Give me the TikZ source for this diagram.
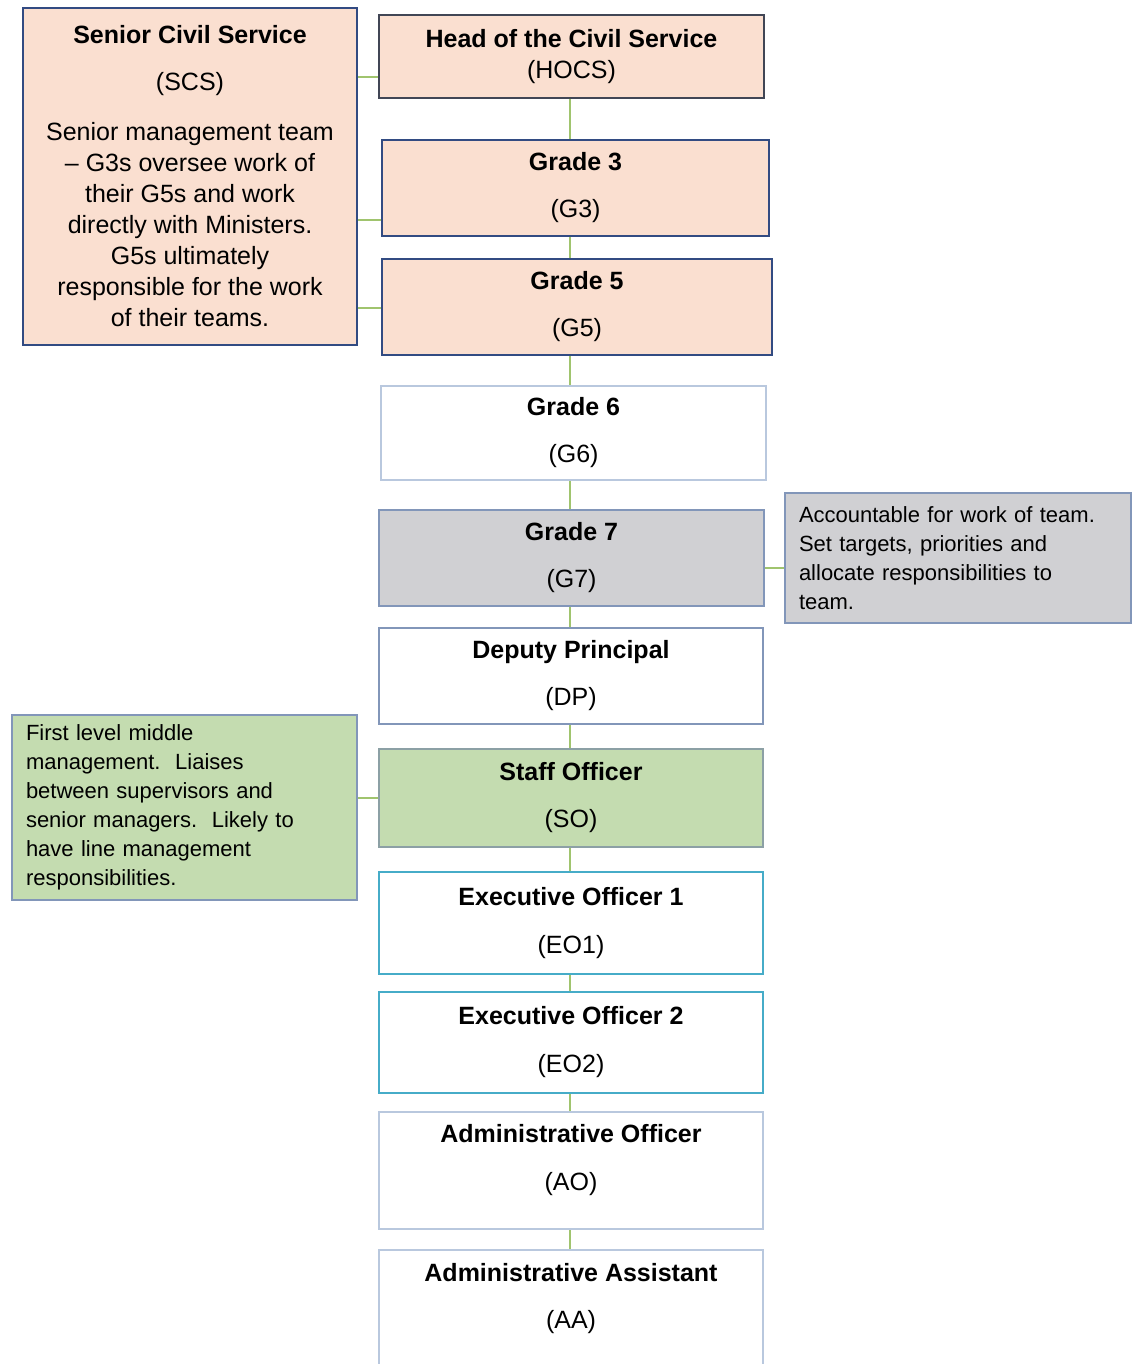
\documentclass[tikz,border=0pt]{standalone}
\usepackage{fontspec}
\setmainfont{Liberation Sans}

\definecolor{peach}{RGB}{250,223,208}
\definecolor{navyline}{RGB}{50,75,130}
\definecolor{darkline}{RGB}{65,70,85}
\definecolor{paleline}{RGB}{185,200,222}
\definecolor{greyfill}{RGB}{208,208,211}
\definecolor{greyline}{RGB}{130,150,185}
\definecolor{sagefill}{RGB}{196,220,176}
\definecolor{sageline}{RGB}{140,160,165}
\definecolor{tealline}{RGB}{70,172,200}
\definecolor{linkgreen}{RGB}{160,196,110}

\begin{document}
\begin{tikzpicture}[x=1pt,y=-1pt,
    grade/.style={draw, line width=2pt, inner sep=0pt, align=center,
      font=\fontsize{25}{30}\selectfont},
    note/.style={draw, line width=2pt, inner xsep=14pt, inner ysep=0pt,
      align=left, font=\fontsize{22}{29}\selectfont},
    link/.style={draw=linkgreen, line width=2pt}]
    \useasboundingbox (0,0) rectangle (1134,1364);

    % senior grades
    \node[grade, fill=peach, draw=navyline, line width=2.5pt, minimum width=334pt, minimum height=337pt,
      font=\fontsize{25}{31}\selectfont] (scs) at (190,176.5)
      {\textbf{Senior Civil Service}\\[16pt](SCS)\\[19pt]Senior management team\\
       -- G3s oversee work of\\their G5s and work\\directly with Ministers.\\
       G5s ultimately\\responsible for the work\\of their teams.};
    \node[grade, fill=peach, draw=darkline, minimum width=385pt, minimum height=83pt] (hocs) at (571.5,56.5)
      {\textbf{Head of the Civil Service}\\[1pt](HOCS)};
    \node[grade, fill=peach, draw=navyline, minimum width=387pt, minimum height=96pt] (g3) at (575.5,188)
      {\textbf{Grade 3}\\[17pt](G3)};
    \node[grade, fill=peach, draw=navyline, minimum width=390pt, minimum height=96pt] (g5) at (577,307)
      {\textbf{Grade 5}\\[17pt](G5)};

    % middle grades
    \node[grade, draw=paleline, minimum width=385pt, minimum height=94pt] (g6) at (573.5,433)
      {\textbf{Grade 6}\\[17pt](G6)};
    \node[grade, fill=greyfill, draw=greyline, minimum width=385pt, minimum height=96pt] (g7) at (571.5,558)
      {\textbf{Grade 7}\\[17pt](G7)};
    \node[note, fill=greyfill, draw=greyline, minimum width=346pt, minimum height=130pt,
      text width=318pt] (g7note) at (958,558)
      {Accountable for work of team.\\Set targets, priorities and\\allocate responsibilities to\\team.};
    \node[grade, draw=greyline, minimum width=384pt, minimum height=96pt] (dp) at (571,676)
      {\textbf{Deputy Principal}\\[17pt](DP)};
    \node[grade, fill=sagefill, draw=sageline, minimum width=384pt, minimum height=98pt] (so) at (571,798)
      {\textbf{Staff Officer}\\[17pt](SO)};
    \node[note, fill=sagefill, draw=greyline, minimum width=345pt, minimum height=185pt,
      text width=317pt] (sonote) at (184.5,807.5)
      {First level middle\\management.\ \ Liaises\\between supervisors and\\senior managers.\ \ Likely to\\have line management\\responsibilities.};

    % junior grades
    \node[grade, draw=tealline, minimum width=384pt, minimum height=102pt] (eo1) at (571,923)
      {\textbf{Executive Officer 1}\\[18pt](EO1)};
    \node[grade, draw=tealline, minimum width=384pt, minimum height=101pt] (eo2) at (571,1042.5)
      {\textbf{Executive Officer 2}\\[18pt](EO2)};
    \node[grade, draw=paleline, minimum width=384pt, minimum height=117pt] (ao) at (571,1170.5)
      {\textbf{Administrative Officer}\\[18pt](AO)\\[-4pt]\mbox{}};
    \node[grade, draw=paleline, minimum width=384pt, minimum height=122pt] (aa) at (571,1311)
      {\textbf{Administrative Assistant}\\[17pt](AA)\\[1pt]\mbox{}};

    % reporting line
    \foreach \a/\b in {hocs/g3, g3/g5, g5/g6, g6/g7, g7/dp, dp/so, so/eo1, eo1/eo2, eo2/ao, ao/aa}
      \path[link] (570,0 |- \a.south) -- (570,0 |- \b.north);

    % side links
    \path[link] (scs.east |- 0,77) -- (hocs.west |- 0,77);
    \path[link] (scs.east |- 0,220) -- (g3.west |- 0,220);
    \path[link] (scs.east |- 0,308) -- (g5.west |- 0,308);
    \path[link] (g7.east |- 0,568) -- (g7note.west |- 0,568);
    \path[link] (sonote.east |- so.west) -- (so.west);
\end{tikzpicture}
\end{document}
